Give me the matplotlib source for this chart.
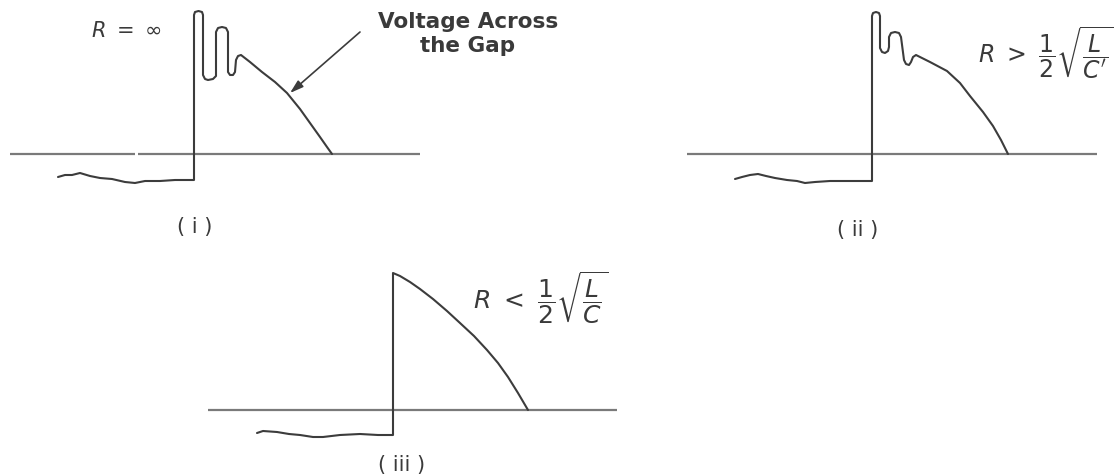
import matplotlib
matplotlib.use("Agg")
import matplotlib.pyplot as plt

plt.rcParams['font.family'] = ['DejaVu Sans']
plt.rcParams['mathtext.fontset'] = 'dejavusans'

W, H = 1120, 475
LINE = '#3c3c3c'
AXIS = '#7a7a7a'
TEXT = '#3a3a3a'

# ---- Panel (i): R = infinity (time, voltage) ----
i_t = [-136, -129, -122, -114, -104, -94, -82, -69, -59, -49, -34, -19, -9, 0,
       0, 1, 4.5, 8, 9, 9, 11, 14, 19, 22, 22, 24, 28, 32, 34, 34, 36, 39, 41,
       42, 44, 47, 56, 68, 81, 93, 106, 116, 126, 133, 138]
i_v = [-23, -21, -21, -19, -22, -24, -25, -28, -29, -27, -27, -26, -26, -26,
       139, 142, 143, 142, 139, 79, 75, 74, 75, 78, 122, 126, 127, 126, 122, 82, 79, 79, 82,
       94, 98, 99, 92, 82, 72, 61, 45, 31, 17, 7, 0]
i_axis = [(-184, -59), (-56, 226)]

# ---- Panel (ii): R > 1/2 sqrt(L/C) ----
ii_t = [-137, -130, -122, -114, -106, -97, -85, -75, -67, -57, -42, -22, 0,
        0, 1, 4, 7, 8, 8, 10, 13, 16, 17, 17, 19, 23, 27, 29, 32, 34, 37, 39,
        41, 44, 46, 58, 75, 88, 98, 111, 121, 129, 136]
ii_v = [-25, -23, -21, -20, -22, -24, -26, -27, -29, -28, -27, -27, -27,
        138, 141, 142, 141, 138, 106, 102, 101, 103, 107, 117, 121, 122, 121, 117, 94, 90, 89, 92,
        97, 99, 98, 92, 83, 71, 58, 42, 28, 14, 0]
ii_axis = [(-185, 225)]

# ---- Panel (iii): R < 1/2 sqrt(L/C) ----
iii_t = [-136, -130, -116, -104, -93, -80, -70, -53, -33, -15, 0,
         0, 7, 17, 27, 40, 54, 67, 81, 94, 105, 115, 125, 135]
iii_v = [-23, -21, -22, -24, -25, -27, -27, -25, -24, -25, -25,
         137, 134, 128, 121, 111, 99, 87, 74, 60, 47, 33, 17, 0]
iii_axis = [(-185, 224)]

fig = plt.figure(figsize=(W / 100, H / 100), dpi=100)
fig.patch.set_facecolor('white')


def panel(box, origin):
    """box = (x0, y0, x1, y1) in pixels, origin = pixel position of t=0, v=0."""
    x0, y0, x1, y1 = box
    ax = fig.add_axes([x0 / W, 1 - y1 / H, (x1 - x0) / W, (y1 - y0) / H])
    ox, oy = origin
    ax.set_xlim(x0 - ox, x1 - ox)
    ax.set_ylim(oy - y1, oy - y0)
    ax.axis('off')
    return ax


def draw(ax, t, v, axis_segments):
    for a, b in axis_segments:
        ax.plot([a, b], [0, 0], color=AXIS, lw=1.6, solid_capstyle='butt')
    ax.plot(t, v, color=LINE, lw=1.5, solid_joinstyle='round', solid_capstyle='round')


ax1 = panel((0, 0, 440, 240), (194, 154))
draw(ax1, i_t, i_v, i_axis)
ax1.text(-68, 123, r'$R\ =\ \infty$', fontsize=15, color=TEXT, ha='center', va='center')
ax1.text(274, 120, 'Voltage Across\nthe Gap', fontsize=15.5, fontweight='bold', color=TEXT,
         ha='center', va='center', linespacing=1.2)
ax1.annotate('', xy=(96, 61), xytext=(166, 122),
             arrowprops=dict(arrowstyle='-|>,head_length=0.8,head_width=0.25',
                             color=LINE, lw=1.2, shrinkA=0, shrinkB=0))
ax1.text(1, -73, '( i )', fontsize=15, color=TEXT, ha='center', va='center')

ax2 = panel((680, 0, 1120, 240), (872, 154))
draw(ax2, ii_t, ii_v, ii_axis)
ax2.text(174, 101, r"$R\ >\ \dfrac{1}{2}\sqrt{\dfrac{L}{C'}}$", fontsize=17,
         color=TEXT, ha='center', va='center')
ax2.text(-14, -76, '( ii )', fontsize=15, color=TEXT, ha='center', va='center')

ax3 = panel((200, 240, 640, 475), (393, 410))
draw(ax3, iii_t, iii_v, iii_axis)
ax3.text(148, 112, r"$R\ <\ \dfrac{1}{2}\sqrt{\dfrac{L}{C}}$", fontsize=18,
         color=TEXT, ha='center', va='center')
ax3.text(9, -55, '( iii )', fontsize=15, color=TEXT, ha='center', va='center')

fig.savefig('out.png', dpi=100, facecolor='white')
